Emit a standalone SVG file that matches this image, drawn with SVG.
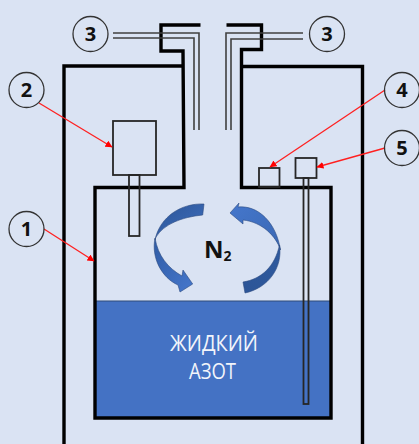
<svg xmlns="http://www.w3.org/2000/svg" width="419" height="444" viewBox="0 0 419 444">
<defs>
<marker id="ah" markerWidth="8" markerHeight="8" refX="6.500" refY="3.500" orient="auto" markerUnits="userSpaceOnUse"><path d="M0 0L7 3.500L0 7z" fill="#ff0000"/></marker>
<linearGradient id="g1" x1="0" y1="0" x2="1" y2="1"><stop offset="0" stop-color="#2c5597"/><stop offset="1" stop-color="#3f6fbe"/></linearGradient>
<linearGradient id="g2" x1="0" y1="0" x2="1" y2="1"><stop offset="0" stop-color="#305ca5"/><stop offset="1" stop-color="#4577cc"/></linearGradient>
<linearGradient id="g3" x1="0" y1="0" x2="1" y2="1"><stop offset="0" stop-color="#4577cc"/><stop offset="1" stop-color="#3a68b4"/></linearGradient>
<linearGradient id="g4" x1="1" y1="0" x2="0" y2="1"><stop offset="0" stop-color="#2f5a9e"/><stop offset="1" stop-color="#2c5597"/></linearGradient>
</defs>
<style>
.w{fill:none;stroke:#000;stroke-width:3.400}
.t{fill:none;stroke:#262626;stroke-width:1.800}
.p{fill:none;stroke:#404040;stroke-width:1.600}
.c{fill:none;stroke:#333;stroke-width:1.300}
.n{font-family:"Open Sans","Noto Sans",sans-serif;font-weight:700;font-size:20px;fill:#111;text-anchor:middle}
.l{stroke:#ff2020;stroke-width:1.300;fill:none;marker-end:url(#ah)}
.a{stroke:#2b4a80;stroke-width:.6}
.x{font-family:"Open Sans","Noto Sans",sans-serif;font-size:21px;fill:#f2f5fb}
</style>
<rect width="419" height="444" fill="#dae3f3"/>
<g id="liquid"><rect x="95" y="301" width="236" height="118" fill="#4472c4"/><line x1="95" y1="301" x2="331" y2="301" stroke="#2f4a78" stroke-width="1"/></g>
<g id="vessel">
<path class="w" d="M64 444V66H183"/>
<path class="w" d="M200.500 25H161V51H183L184 187.500H95V418H331V187.500H241.500V49.500H261.500V25H226.500"/>
<path class="w" d="M241.500 66.500H362.500V444"/>
</g>
<g id="pipes">
<path class="p" d="M113 33H199V130"/><path class="p" d="M113 38H194V130"/>
<path class="p" d="M303 33H226V130"/><path class="p" d="M303 39H231V130"/>
</g>
<g id="node2"><rect class="t" x="113" y="121" width="43" height="54"/><rect class="t" x="129" y="175" width="10.500" height="61"/></g>
<g id="node4"><rect class="t" x="259" y="168" width="20.500" height="19"/></g>
<g id="node5"><rect class="t" x="295.500" y="158" width="21" height="20"/><rect class="t" x="303.500" y="178" width="5" height="226"/></g>
<g id="flow">
<path class="a" fill="url(#g1)" d="M204 204C182 203 160 216 155 240L156 237C164 224 182 217 202.700 215Z"/>
<path class="a" fill="url(#g2)" d="M155 238C151 258 162 278 178 285L180 292L192.700 284L183 270L182 276C168 268 158 256 155 238Z"/>
<path class="a" fill="url(#g3)" d="M230 213L239 203L238 207C258 205 276 222 280.500 250C276 236 262 222 243 220L243 224Z"/>
<path class="a" fill="url(#g4)" d="M279.500 245C283 268 268 288 245 293L243 282C262 279 275 266 279.500 245Z"/>
</g>
<g id="labels">
<text x="204" y="258" font-family="Open Sans,Noto Sans,sans-serif" font-weight="700" font-size="24" fill="#111">N<tspan font-size="14" dy="3">2</tspan></text>
<text class="x" x="170" y="351" textLength="88" lengthAdjust="spacingAndGlyphs">ЖИДКИЙ</text>
<text class="x" x="189" y="379" textLength="47" lengthAdjust="spacingAndGlyphs">АЗОТ</text>
</g>
<g id="connectors">
<line class="l" x1="39" y1="103" x2="112" y2="147"/>
<line class="l" x1="44" y1="229" x2="94" y2="261"/>
<line class="l" x1="385" y1="90" x2="270" y2="167"/>
<line class="l" x1="385" y1="148" x2="317" y2="167"/>
</g>
<g id="n1"><circle class="c" cx="26.500" cy="229" r="17.500"/><text class="n" x="26.500" y="236">1</text></g>
<g id="n2"><circle class="c" cx="26.500" cy="90" r="17.500"/><text class="n" x="26.500" y="97">2</text></g>
<g id="n3a"><circle class="c" cx="90.500" cy="34" r="17.500"/><text class="n" x="90.500" y="41">3</text></g>
<g id="n3b"><circle class="c" cx="327" cy="34" r="17.500"/><text class="n" x="327" y="41">3</text></g>
<g id="n4"><circle class="c" cx="402" cy="90" r="17.500"/><text class="n" x="402" y="97">4</text></g>
<g id="n5"><circle class="c" cx="402" cy="148" r="17.500"/><text class="n" x="402" y="155">5</text></g>
</svg>
